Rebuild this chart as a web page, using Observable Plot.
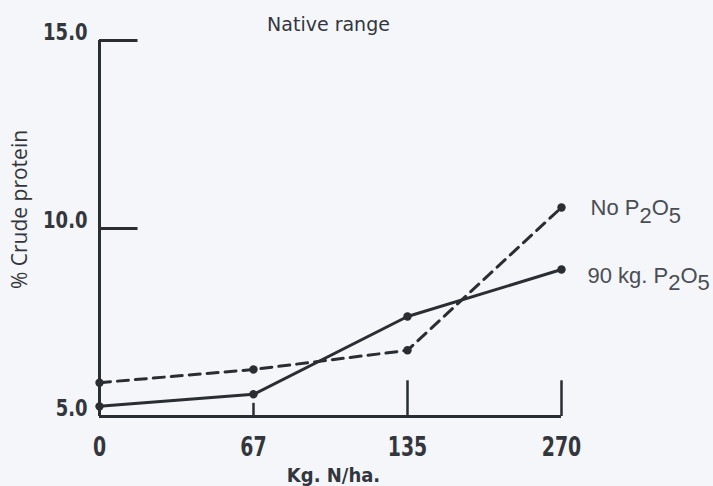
<!DOCTYPE html>
<html>
<head>
<meta charset="utf-8">
<script src="https://cdn.jsdelivr.net/npm/d3@7"></script>
<script src="https://cdn.jsdelivr.net/npm/@observablehq/plot@0.6"></script>
<style>
  html, body { margin: 0; padding: 0; background: #f4f6fa; }
  svg { display: block; }
</style>
</head>
<body>
<div id="chart"></div>
<script>
// Nitrogen rates (kg N/ha), shown at evenly spaced positions
const nRates = ["0", "67", "135", "270"];
// % crude protein, no phosphate applied
const noP = [5.90, 6.25, 6.76, 10.56];
// % crude protein, 90 kg P2O5 applied
const withP = [5.27, 5.59, 7.66, 8.91];
const yTicks = [5, 10, 15];
const seriesNames = ["No P₂O₅", "90 kg. P₂O₅"];

const rows = [
  ...noP.map((v, i) => ({i, v, s: seriesNames[0]})),
  ...withP.map((v, i) => ({i, v, s: seriesNames[1]}))
];
const ink = "#2a2d32";
const labelInk = "#33363c";
const condBold = "'DejaVu Sans Condensed', sans-serif";

const chart = Plot.plot({
  width: 713,
  height: 486,
  marginLeft: 99,
  marginRight: 152,
  marginTop: 40,
  marginBottom: 70,
  style: {background: "#f4f6fa", color: ink},
  x: {domain: [0, nRates.length - 1], axis: null},
  y: {domain: [5, 15], axis: null},
  marks: [
    // axis lines and tick marks
    Plot.ruleX([0], {y1: 5, y2: 15, stroke: ink, strokeWidth: 3}),
    Plot.ruleY([5], {x1: 0, x2: 3, stroke: ink, strokeWidth: 3}),
    Plot.ruleY(yTicks.filter(d => d > 5), {x1: 0, x2: 0.25, stroke: ink, strokeWidth: 3}),
    Plot.ruleX([1], {y1: 5, y2: 5.35, stroke: ink, strokeWidth: 2.5}),
    Plot.ruleX([2, 3], {y1: 5, y2: 5.95, stroke: ink, strokeWidth: 2.5}),
    // tick labels
    Plot.text(yTicks, {
      x: 0, y: d => d, text: d => d3.format(".1f")(d),
      textAnchor: "end", dx: -12, dy: -8,
      fontSize: 20, fontWeight: "bold", fontFamily: condBold, fill: labelInk,
      className: "tall-y"
    }),
    Plot.text(nRates, {
      x: (d, i) => i, y: 5, text: d => d,
      dy: 31, fontSize: 21, fontWeight: "bold", fontFamily: condBold, fill: labelInk,
      className: "tall-x"
    }),
    // series
    Plot.line(rows.filter(d => d.s === seriesNames[0]), {
      x: "i", y: "v", stroke: ink, strokeWidth: 3, strokeDasharray: "11,7"
    }),
    Plot.line(rows.filter(d => d.s === seriesNames[1]), {
      x: "i", y: "v", stroke: ink, strokeWidth: 3
    }),
    Plot.dot(rows, {x: "i", y: "v", r: 4.2, fill: ink}),
    // series labels at the line ends
    Plot.text([seriesNames[0]], {
      x: 3, y: noP[noP.length - 1], text: d => d, textAnchor: "start", dx: 29, dy: 1,
      fontSize: 22, fontFamily: "'Liberation Sans', sans-serif", fill: "#4a4d53",
      className: "series-label"
    }),
    Plot.text([seriesNames[1]], {
      x: 3, y: withP[withP.length - 1], text: d => d, textAnchor: "start", dx: 26, dy: 6,
      fontSize: 22, fontFamily: "'Liberation Sans', sans-serif", fill: "#4a4d53",
      className: "series-label"
    }),
    // titles
    Plot.text(["Native range"], {
      frameAnchor: "top", lineAnchor: "middle", dx: -2, dy: -16,
      fontSize: 19, fontFamily: "'DejaVu Sans', sans-serif", fill: labelInk
    }),
    Plot.text(["% Crude protein"], {
      frameAnchor: "left", textAnchor: "middle", dx: -79, dy: -19, rotate: -90,
      fontSize: 21, fontFamily: "'Open Sans', sans-serif", fill: labelInk
    }),
    Plot.text(["Kg. N/ha."], {
      frameAnchor: "bottom", lineAnchor: "middle", dx: 3, dy: 59,
      fontSize: 20, fontWeight: "bold", fontFamily: condBold, fill: labelInk
    })
  ]
});

// Render the chemical-formula digits as lowered, full-size characters
const subs = {"₂": "2", "₅": "5"};
d3.select(chart).selectAll("g.series-label text").each(function () {
  const str = this.textContent;
  const sel = d3.select(this);
  sel.text(null);
  let lowered = false;
  let buf = "";
  const flush = (down) => {
    if (!buf) return;
    const t = sel.append("tspan").text(buf);
    if (down !== lowered) t.attr("dy", down ? "0.36em" : "-0.36em");
    lowered = down;
    buf = "";
  };
  let cur = false;
  for (const ch of str) {
    const isSub = ch in subs;
    if (isSub !== cur) { flush(cur); cur = isSub; }
    buf += isSub ? subs[ch] : ch;
  }
  flush(cur);
});

document.getElementById("chart").append(chart);

// Stretch the bold numerals vertically about their own centres (condensed, tall face)
function stretch(selector, k) {
  d3.select(chart).selectAll(`g.${selector} text`).each(function () {
    const b = this.getBBox();
    const cy = b.y + b.height / 2;
    const prev = this.getAttribute("transform") || "";
    this.setAttribute("transform", `${prev} translate(0,${cy}) scale(1,${k}) translate(0,${-cy})`);
  });
}
stretch("tall-y", 1.15);
stretch("tall-x", 1.25);
</script>
</body>
</html>
